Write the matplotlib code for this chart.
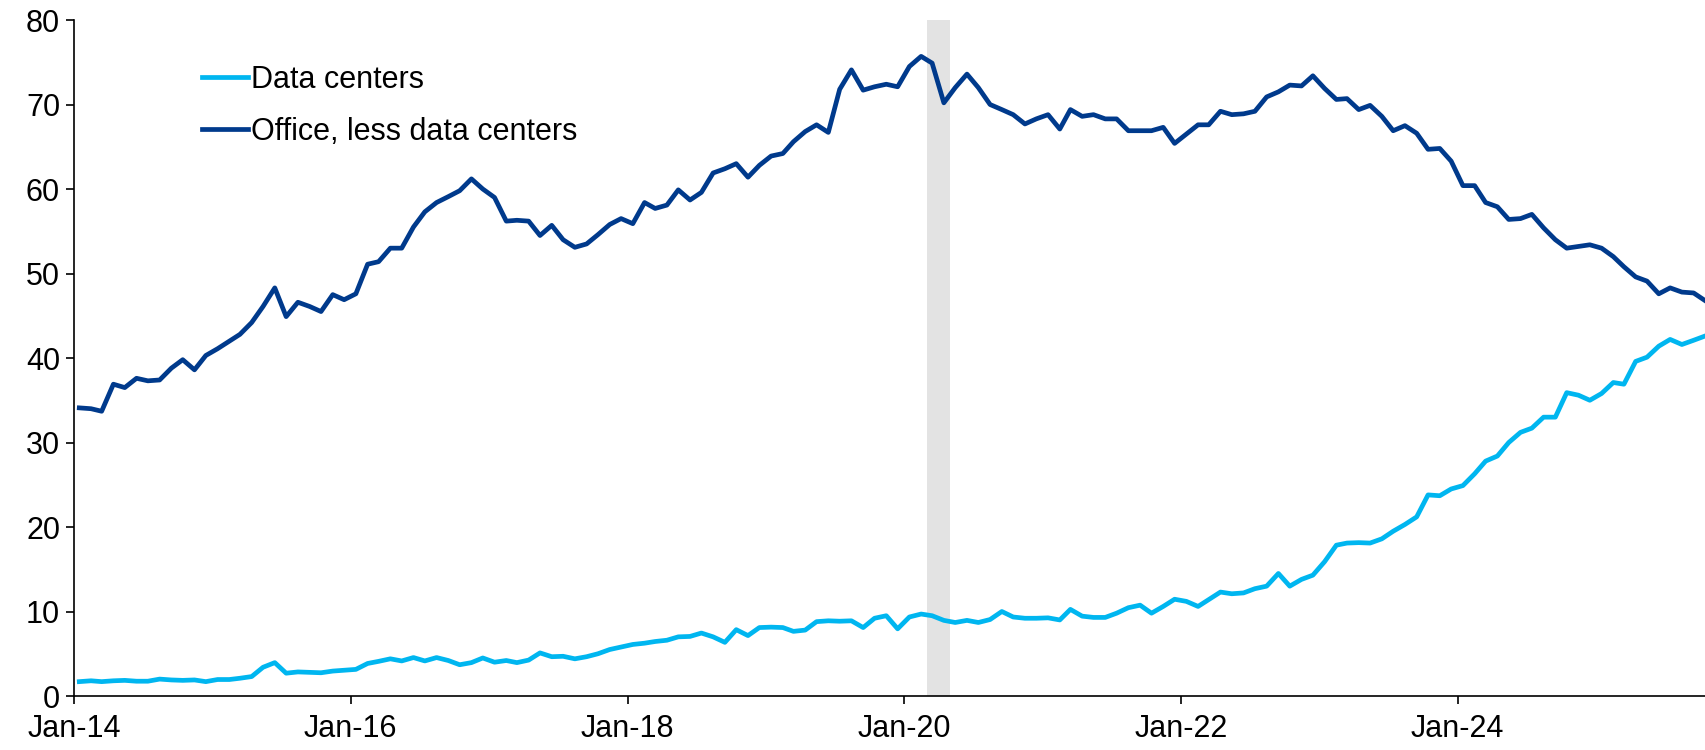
import numpy as np
import pandas as pd
import matplotlib
matplotlib.use("Agg")
import matplotlib.pyplot as plt

plt.rcParams['font.family'] = ['Liberation Sans', 'DejaVu Sans']

# monthly observations, Jan-2014 .. Oct-2025 (plotted mid-month)
start_month = "2014-01-01"
n_months = 142

data_centers = [
    1.7, 1.8, 1.7, 1.8, 1.85, 1.75, 1.75, 2.0, 1.9, 1.85, 1.9, 1.7,
    1.95, 1.95, 2.1, 2.3, 3.4, 3.95, 2.7, 2.85, 2.8, 2.75, 2.95, 3.05,
    3.15, 3.85, 4.1, 4.4, 4.15, 4.55, 4.15, 4.55, 4.2, 3.7, 3.95, 4.5,
    4.0, 4.2, 3.95, 4.25, 5.1, 4.65, 4.7, 4.4, 4.65, 5.0, 5.5, 5.8,
    6.1, 6.25, 6.45, 6.6, 7.0, 7.05, 7.45, 7.0, 6.35, 7.85, 7.15, 8.1,
    8.15, 8.1, 7.65, 7.8, 8.8, 8.9, 8.85, 8.9, 8.1, 9.2, 9.5, 7.95,
    9.35, 9.7, 9.5, 8.95, 8.7, 8.95, 8.7, 9.05, 10.0, 9.35, 9.2, 9.2,
    9.25, 9.0, 10.25, 9.45, 9.3, 9.3, 9.8, 10.45, 10.75, 9.8, 10.6, 11.45,
    11.2, 10.6, 11.4, 12.3, 12.1, 12.2, 12.7, 13.0, 14.5, 13.0, 13.8, 14.3,
    15.9, 17.85, 18.1, 18.15, 18.1, 18.6, 19.5, 20.3, 21.2, 23.8, 23.7, 24.5,
    24.9, 26.3, 27.8, 28.4, 30.0, 31.2, 31.7, 33.0, 33.0, 35.9, 35.6, 35.0,
    35.8, 37.1, 36.9, 39.6, 40.1, 41.4, 42.2, 41.6, 42.1, 42.6,
]

office_ex_dc = [
    34.1, 34.0, 33.7, 36.9, 36.5, 37.6, 37.3, 37.4, 38.8, 39.8, 38.6, 40.3,
    41.1, 42.0, 42.8, 44.2, 46.1, 48.3, 44.9, 46.6, 46.1, 45.5, 47.5, 46.9,
    47.6, 51.1, 51.4, 53.0, 53.0, 55.5, 57.3, 58.4, 59.1, 59.8, 61.2, 60.0,
    59.0, 56.2, 56.3, 56.2, 54.5, 55.7, 54.0, 53.1, 53.5, 54.6, 55.8, 56.5,
    55.9, 58.4, 57.7, 58.1, 59.9, 58.7, 59.6, 61.9, 62.4, 63.0, 61.4, 62.8,
    63.9, 64.2, 65.6, 66.8, 67.6, 66.7, 71.8, 74.1, 71.7, 72.1, 72.4, 72.1,
    74.5, 75.7, 74.9, 70.2, 72.0, 73.6, 72.0, 70.0, 69.4, 68.8, 67.7, 68.3,
    68.8, 67.1, 69.4, 68.6, 68.8, 68.3, 68.3, 66.9, 66.9, 66.9, 67.3, 65.4,
    66.5, 67.6, 67.6, 69.2, 68.8, 68.9, 69.2, 70.9, 71.5, 72.3, 72.2, 73.4,
    71.9, 70.6, 70.7, 69.4, 69.9, 68.6, 66.9, 67.5, 66.6, 64.7, 64.8, 63.3,
    60.4, 60.4, 58.4, 57.9, 56.4, 56.5, 57.0, 55.4, 54.0, 53.0, 53.2, 53.4,
    53.0, 52.0, 50.8, 49.6, 49.1, 47.6, 48.3, 47.8, 47.7, 46.8,
]

recession = ("2020-03-01", "2020-05-01")
tick_years = [2014, 2016, 2018, 2020, 2022, 2024]
tick_labels = ["Jan-14", "Jan-16", "Jan-18", "Jan-20", "Jan-22", "Jan-24"]

dates = pd.date_range(start_month, periods=n_months, freq="MS") + pd.Timedelta(days=14)

fig = plt.figure(figsize=(17.05, 7.5), dpi=100)
ax = fig.add_axes([0.0434, 0.072, 0.9566, 0.9013])

ax.axvspan(pd.Timestamp(recession[0]), pd.Timestamp(recession[1]),
           color="#e3e3e3", lw=0, zorder=0)
ax.plot(dates, data_centers, color="#00b6f0", lw=3.4, label="Data centers")
ax.plot(dates, office_ex_dc, color="#003a8c", lw=3.4, label="Office, less data centers")

ax.set_xlim(pd.Timestamp("2014-01-01"), dates[-1])
ax.set_ylim(0, 80)
ax.set_yticks(np.arange(0, 81, 10))
ax.set_xticks([pd.Timestamp(f"{y}-01-01") for y in tick_years])
ax.set_xticklabels(tick_labels)

for side in ("top", "right"):
    ax.spines[side].set_visible(False)
for side in ("left", "bottom"):
    ax.spines[side].set_linewidth(1.2)
ax.tick_params(axis="both", labelsize=22, length=6, width=1.2, direction="out")
ax.tick_params(axis="y", pad=4)
ax.tick_params(axis="x", pad=7)

ax.legend(loc="center left", bbox_to_anchor=(0.0785, 0.873), frameon=False,
          fontsize=22, handlelength=1.5, handletextpad=0.1, labelspacing=0.72,
          borderpad=0, borderaxespad=0)

fig.savefig("out.png", dpi=100)
